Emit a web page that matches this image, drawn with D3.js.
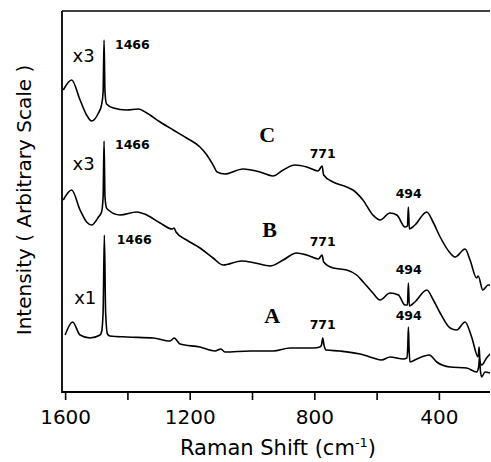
<!DOCTYPE html>
<html>
<head>
<meta charset="utf-8">
<script src="https://cdn.jsdelivr.net/npm/d3@7"></script>
<style>
  html, body { margin: 0; padding: 0; background: #fff; }
  svg { display: block; }
</style>
</head>
<body>
<svg id="chart" width="491" height="462"></svg>
<script>
// ---------- DATA ----------
const xTicks = [1600, 1400, 1200, 1000, 800, 600, 400];
const xTickLabels = ["1600", "", "1200", "", "800", "", "400"];

const shiftC = [1606,1579,1552,1531,1515,1493,1483,1478,1475,1472,1467,1445,1402,1365,1338,1295,1253,1210,1167,1145,1125,1112,1087,1029,974,933,900,862,824,788,775,770,740,696,676,644,612,589,557,535,509,501,498,495,477,439,419,396,364,348,316,300,279,274,259,242,236];
const intensityC = [302,312,292,277,271,279,287,300,352,300,288,284,282,283,279,270,262,254,245,237,227,220,218,223,220,216,222,227,225,221,226,217,210,205,202,192,177,172,179,177,165,166,185,163,167,180,170,155,139,135,143,132,114,116,102,107,107];

const shiftB = [1606,1579,1552,1531,1515,1493,1483,1478,1475,1472,1467,1461,1424,1370,1338,1295,1256,1250,1244,1210,1167,1125,1093,1033,990,942,900,857,824,787,775,770,739,696,664,643,612,589,557,530,509,501,498,495,477,439,418,396,364,343,316,295,274,271,268,263,247,236];
const intensityB = [192,202,182,170,167,175,180,195,251,195,184,182,177,180,177,169,163,164,160,152,144,134,127,131,129,126,132,139,137,133,137,130,124,122,117,110,99,92,99,97,87,87,109,86,90,102,92,79,64,62,70,55,35,45,30,27,34,38];

const shiftA = [1600,1576,1552,1520,1488,1483,1478,1474,1470,1464,1456,1402,1317,1263,1250,1231,1167,1119,1100,1087,1006,932,878,803,782,777,773,769,762,718,653,611,584,557,514,503,500,498,496,493,471,431,407,364,311,279,272,270,267,263,252,236];
const intensityA = [57,70,57,54,57,60,80,157,80,58,56,55,54,51,54,48,45,41,43,40,41,41,44,44,45,47,54,47,42,41,38,34,32,35,33,34,45,65,45,30,33,37,30,25,24,20,26,34,22,15,20,19];

const traceNames = ["C", "B", "A"];
const scaleLabels = ["x3", "x3", "x1"];
const peakLabels = ["1466", "771", "494"];

// ---------- LAYOUT ----------
const svg = d3.select("#chart");
const mLeft = 62, mRight = 490, mTop = 11, mBottom = 392;

const x = d3.scaleLinear().domain([1610, 236]).range([mLeft, mRight]);
const y = d3.scaleLinear().domain([0, 381]).range([mBottom, mTop]);

svg.append("rect").attr("width", 491).attr("height", 462).attr("fill", "#fff");

svg.append("defs").append("clipPath").attr("id", "clip")
  .append("rect").attr("x", mLeft).attr("y", 0).attr("width", mRight - mLeft).attr("height", mBottom);

const traces = [
  {name: "C", s: shiftC, v: intensityC},
  {name: "B", s: shiftB, v: intensityB},
  {name: "A", s: shiftA, v: intensityA}
];

const line = d3.line()
  .x(d => x(d[0]))
  .y(d => y(d[1]))
  .curve(d3.curveMonotoneX);

const g = svg.append("g").attr("clip-path", "url(#clip)");
traces.forEach(t => {
  const pts = t.s.map((s, i) => [s, t.v[i]]);
  g.append("path")
    .attr("d", line(pts))
    .attr("fill", "none")
    .attr("stroke", "#000")
    .attr("stroke-width", 1.6)
    .attr("stroke-linejoin", "round");
});

// ---------- AXES ----------
const xAxis = d3.axisBottom(x)
  .tickValues(xTicks)
  .tickSize(8)
  .tickPadding(8)
  .tickFormat((d, i) => xTickLabels[i]);

const ax = svg.append("g").attr("transform", `translate(0,${mBottom})`).call(xAxis);
ax.select(".domain").remove();
ax.selectAll(".tick line").attr("stroke", "#000").attr("stroke-width", 1.6);
ax.selectAll(".tick text")
  .attr("font-family", "DejaVu Sans, sans-serif")
  .attr("font-size", 20)
  .attr("fill", "#000")
  .attr("dy", "0.71em")
  .attr("y", 18);

// axis frame
svg.append("line").attr("x1", mLeft).attr("x2", mRight).attr("y1", mBottom).attr("y2", mBottom)
  .attr("stroke", "#000").attr("stroke-width", 2);
svg.append("line").attr("x1", mLeft).attr("x2", mLeft).attr("y1", mTop).attr("y2", mBottom + 1)
  .attr("stroke", "#000").attr("stroke-width", 1.8);
svg.append("line").attr("x1", mLeft).attr("x2", mRight).attr("y1", mTop).attr("y2", mTop)
  .attr("stroke", "#000").attr("stroke-width", 1.3);

// axis titles
const xt = svg.append("text")
  .attr("x", 278).attr("y", 455)
  .attr("text-anchor", "middle")
  .attr("font-family", "DejaVu Sans, sans-serif")
  .attr("font-size", 21)
  .attr("fill", "#000");
xt.append("tspan").text("Raman Shift (cm");
xt.append("tspan").text("-1").attr("font-size", 13).attr("dy", -8);
xt.append("tspan").text(")").attr("dy", 8);

svg.append("text")
  .attr("transform", "translate(31,200) rotate(-90)")
  .attr("text-anchor", "middle")
  .attr("font-family", "DejaVu Sans, sans-serif")
  .attr("font-size", 20)
  .attr("fill", "#000")
  .text("Intensity ( Arbitrary Scale )");

// ---------- ANNOTATIONS (anchored in data coordinates) ----------
const nameAnchors = [[977, 250], [967, 155], [961, 69]];
traceNames.forEach((n, i) => {
  svg.append("text")
    .attr("x", x(nameAnchors[i][0])).attr("y", y(nameAnchors[i][1]))
    .attr("font-family", "Liberation Serif, Times New Roman, serif")
    .attr("font-weight", "bold")
    .attr("font-size", 22)
    .attr("fill", "#000")
    .text(n);
});

const scaleAnchors = [[1576, 330.5], [1576, 222], [1571, 88]];
scaleLabels.forEach((s, i) => {
  svg.append("text")
    .attr("x", x(scaleAnchors[i][0])).attr("y", y(scaleAnchors[i][1]))
    .attr("font-family", "DejaVu Sans, sans-serif")
    .attr("font-size", 18)
    .attr("fill", "#000")
    .text(s);
});

const peakAnchors = [
  [0, 1440, 343.5, "start"], [0, 1440, 242.7, "start"], [0, 1434, 148, "start"],
  [1, 773, 233.7, "middle"], [1, 773, 146, "middle"], [1, 773, 62.7, "middle"],
  [2, 497, 194.3, "middle"], [2, 497, 117.7, "middle"], [2, 497, 72, "middle"]
];
peakAnchors.forEach(p => {
  svg.append("text")
    .attr("x", x(p[1])).attr("y", y(p[2]))
    .attr("text-anchor", p[3])
    .attr("font-family", "DejaVu Sans, sans-serif")
    .attr("font-weight", "bold")
    .attr("font-size", 12.5)
    .attr("fill", "#000")
    .text(peakLabels[p[0]]);
});
</script>
</body>
</html>
